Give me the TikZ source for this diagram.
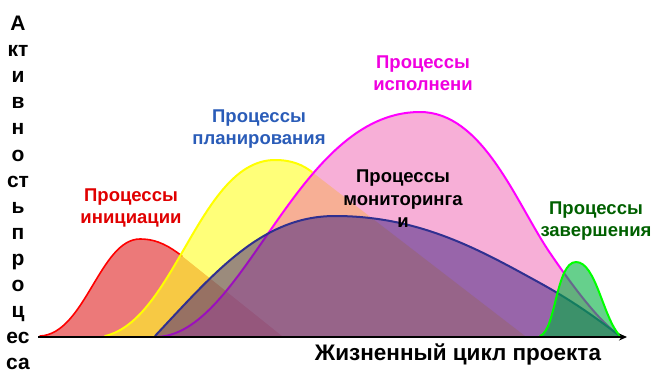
\documentclass[tikz,border=0pt]{standalone}
\usepackage{fontspec}
\setmainfont{Liberation Sans}
\usetikzlibrary{arrows.meta}
\definecolor{redln}{HTML}{FF0000}
\definecolor{redfl}{HTML}{E02020}
\definecolor{yelln}{HTML}{FFFF00}
\definecolor{yelfl}{HTML}{FFFF20}
\definecolor{pinkln}{HTML}{FF00FF}
\definecolor{pinkfl}{HTML}{F060B0}
\definecolor{blueln}{HTML}{303090}
\definecolor{bluefl}{HTML}{402080}
\definecolor{greenln}{HTML}{00FF00}
\definecolor{greenfl}{HTML}{00B040}
\definecolor{tred}{HTML}{E00000}
\definecolor{tblue}{HTML}{2A5CB8}
\definecolor{tmag}{HTML}{F000E0}
\definecolor{tgreen}{HTML}{006000}
\begin{document}
\begin{tikzpicture}[x=1pt,y=-1pt,
  lbl/.style={font=\bfseries\fontsize{18.5}{22.5}\selectfont, align=center, inner sep=0pt},
  curve/.style={line width=1.6pt, line join=round, line cap=round},
  area/.style={fill opacity=0.55}]
\useasboundingbox (0,0) rectangle (663,381);
% red
\fill[area, fill=redfl, fill opacity=0.6] (40,336) .. controls (85,334) and (100,239) .. (140,239) .. controls (158,239) and (170,247) .. (182,256) -- (282,336) -- cycle;
\draw[curve, redln] (40,336) .. controls (85,334) and (100,239) .. (140,239) .. controls (158,239) and (170,247) .. (182,256);
% yellow
\fill[area, fill=yelfl, fill opacity=0.6] (105,336) .. controls (175,320) and (200,160) .. (275,160) .. controls (292,160) and (303,165) .. (312,172) -- (525,336) -- cycle;
\draw[curve, yelln, line width=2pt] (105,336) .. controls (175,320) and (200,160) .. (275,160) .. controls (292,160) and (303,165) .. (312,172);
% pink
\fill[area, fill=pinkfl, fill opacity=0.5] (155,337) .. controls (245,337) and (295,112) .. (420,112) .. controls (482,112) and (515,200) .. (548,250) .. controls (575,290) and (600,322) .. (620,336) -- cycle;
\draw[curve, pinkln, line width=2pt] (155,337) .. controls (245,337) and (295,112) .. (420,112) .. controls (482,112) and (515,200) .. (548,250) .. controls (575,290) and (600,322) .. (620,336);
% blue
\fill[area, fill=bluefl, fill opacity=0.52] (155,336) .. controls (215,272) and (262,216) .. (335,216) .. controls (420,216) and (480,250) .. (540,283) .. controls (580,305) and (605,325) .. (620,336) -- cycle;
\draw[curve, blueln, line width=2pt] (155,336) .. controls (215,272) and (262,216) .. (335,216) .. controls (420,216) and (480,250) .. (540,283) .. controls (580,305) and (605,325) .. (620,336);
% green
\fill[area, fill=greenfl, fill opacity=0.6] (540,336) .. controls (556,330) and (556,262) .. (576,262) .. controls (596,262) and (603,318) .. (620,336) -- cycle;
\draw[curve, greenln, line width=2pt] (540,336) .. controls (556,330) and (556,262) .. (576,262) .. controls (596,262) and (603,318) .. (620,336);
% axis
\coordinate (o) at (38,337);
\coordinate (xe) at (627,337);
\draw[line width=1.8pt, -{Stealth[length=8pt,width=7pt]}] (o) -- (xe);
% labels
\node[lbl, text=tred] (ini) at (131,208) {Процессы\\инициации};
\node[lbl, text=tblue] (pla) at (259,129) {Процессы\\планирования};
\node[lbl, text=tmag] (isp) at (423,73) {Процессы\\исполнени};
\node[lbl, text=black] (mon) at (403,199) {Процессы\\мониторинга\\и};
\node[lbl, text=tgreen] (zav) at (596,221) {Процессы\\завершения};
\node[font=\bfseries\fontsize{22.5}{26}\selectfont, inner sep=0pt] (life) at (458,354) {Жизненный цикл проекта};
\node[font=\bfseries\fontsize{21}{26.08}\selectfont, align=center, inner sep=0pt] (act) at (18,193) {А\\кт\\и\\в\\н\\о\\ст\\ь\\п\\р\\о\\ц\\ес\\са};
\end{tikzpicture}
\end{document}
